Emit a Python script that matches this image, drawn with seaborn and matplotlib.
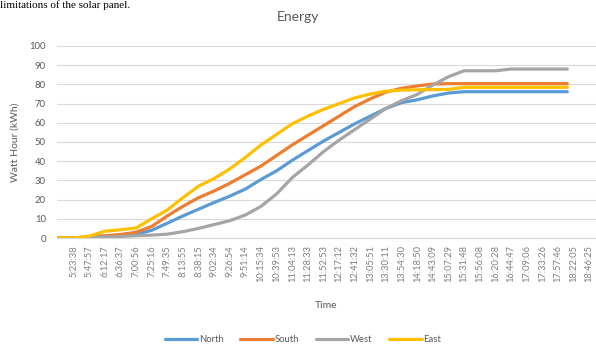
import pandas as pd
import seaborn as sns
import matplotlib.pyplot as plt
import numpy as np

# Tick labels shown on the time axis
tick_labels = ['5:23:38', '5:47:57', '6:12:17', '6:36:37', '7:00:56', '7:25:16', '7:49:35',
               '8:13:55', '8:38:15', '9:02:34', '9:26:54', '9:51:14', '10:15:34', '10:39:53',
               '11:04:13', '11:28:33', '11:52:53', '12:17:12', '12:41:32', '13:05:51',
               '13:30:11', '13:54:30', '14:18:50', '14:43:09', '15:07:29', '15:31:48',
               '15:56:08', '16:20:28', '16:44:47', '17:09:06', '17:33:26', '17:57:46',
               '18:22:05', '18:46:25']

# Sample times
times = ['4:59:19'] + tick_labels[:29] + ['16:47:13'] + tick_labels[29:32] + ['18:12:26']

north = [0, 0, 0.3, 0.8, 1.2, 2, 4, 7.7, 11.5, 15, 18.5, 21.8, 25.5, 30.5, 35, 40.5, 45.5,
         50.5, 55, 59.5, 63.5, 67.5, 70.5, 72, 74, 75.5, 76.2, 76.2, 76.2, 76.2, 76.2,
         76.2, 76.2, 76.2, 76.2]
south = [0, 0, 0.5, 1.2, 1.8, 3, 6, 11.5, 16.5, 21, 24.5, 28.5, 33, 37.5, 43, 48.5, 53.5,
         58.5, 63.5, 68.5, 72.5, 76, 78, 79.2, 80.2, 80.4, 80.4, 80.4, 80.4, 80.4, 80.4,
         80.4, 80.4, 80.4, 80.4]
west = [0, 0, 0.2, 0.5, 0.8, 1.2, 1.5, 2, 3.3, 5, 7, 9, 12, 16.5, 23, 31.5, 38,
        45, 51, 56.5, 62, 67.5, 71.5, 74.8, 79.7, 84, 87.1, 87.1, 87.1, 88, 88,
        88, 88, 88, 88]
east = [0, 0, 1, 3.5, 4.3, 5.2, 10, 14.6, 21, 27, 31, 36, 42, 48.5, 54, 59.5, 63.5,
        67, 70, 73, 75, 76.5, 77, 77.2, 77.3, 77.4, 78.5, 78.5, 78.5, 78.5, 78.5,
        78.5, 78.5, 78.5, 78.5]

series_names = ['North', 'South', 'West', 'East']
colors = ['#5B9BD5', '#ED7D31', '#A5A5A5', '#FFC000']


def to_min(s):
    return pd.to_timedelta(s).total_seconds() / 60


minutes = [to_min(t) for t in times]
df = pd.DataFrame({'minutes': minutes, 'North': north, 'South': south,
                   'West': west, 'East': east})
df_long = df.melt(id_vars='minutes', var_name='series', value_name='kWh')

sns.set_style('white')
plt.rcParams['font.family'] = ['Lato', 'DejaVu Sans']
txt = '#595959'

fig = plt.figure(figsize=(5.96, 3.47), dpi=100)
ax = fig.add_axes([57 / 596, 109 / 347, 539 / 596, 192 / 347])

sns.lineplot(data=df_long, x='minutes', y='kWh', hue='series', hue_order=series_names,
             palette=colors, linewidth=2.3, ax=ax, legend=False)

t0 = to_min(tick_labels[0])
step = (to_min(tick_labels[-1]) - t0) / 33
ax.set_xlim(t0 - 1.06 * step, t0 + 33.44 * step)
ax.set_ylim(0, 100)
ax.set_xticks([to_min(t) for t in tick_labels])
ax.set_xticklabels(tick_labels, rotation=90, fontsize=6.7, color='#7f7f7f')
ax.set_yticks(np.arange(0, 101, 10))
ax.tick_params(axis='y', labelsize=6.8, colors=txt, length=0, pad=8)
ax.tick_params(axis='x', length=0, pad=5)
ax.grid(axis='y', color='#D9D9D9', linewidth=0.8)
ax.set_axisbelow(True)
for side in ['top', 'right', 'left']:
    ax.spines[side].set_visible(False)
ax.spines['bottom'].set_color('#D9D9D9')
ax.set_xlabel('Time', fontsize=7.5, color=txt, labelpad=14)
ax.set_ylabel('Watt Hour (kWh)', fontsize=7.5, color=txt, labelpad=7)

fig.text(298 / 596, 1 - 17 / 347, 'Energy', ha='center', va='center', fontsize=10, color=txt)
fig.text(0.0, 1.0, 'limitations of the solar panel.', ha='left', va='top',
         fontsize=8, color='black', family=['Liberation Serif'])

handles = [plt.Line2D([], [], color=c, linewidth=2.3) for c in colors]
fig.legend(handles, series_names, loc='center', bbox_to_anchor=(303 / 596, 1 - 340 / 347),
           ncol=4, frameon=False, fontsize=6.8, handlelength=3.4, handletextpad=0.2,
           columnspacing=1.8, labelcolor=txt)

fig.savefig('out.png', dpi=100)
